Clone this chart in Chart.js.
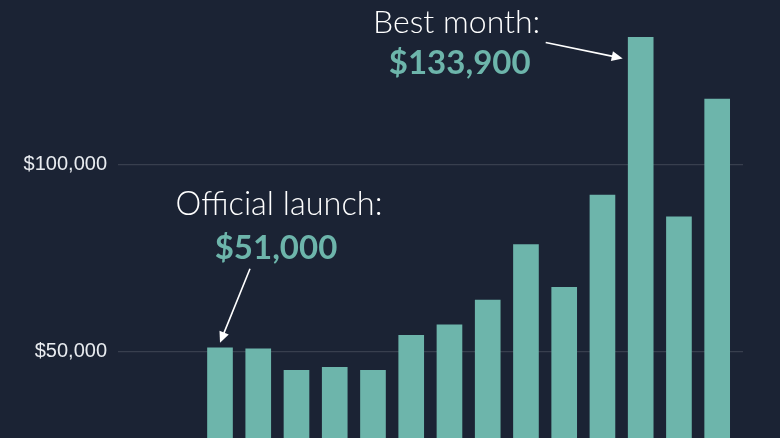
<!DOCTYPE html>
<html>
<head>
<meta charset="utf-8">
<script src="https://cdn.jsdelivr.net/npm/chart.js@4"></script>
<style>
  html, body { margin: 0; padding: 0; background: #1b2334; }
  #wrap { width: 780px; height: 438px; }
</style>
</head>
<body>
<div id="wrap"><canvas id="sales" width="780" height="438"></canvas></div>
<script>
// monthly revenue, starting with the launch month
const months = ['Month 1', 'Month 2', 'Month 3', 'Month 4', 'Month 5', 'Month 6', 'Month 7',
  'Month 8', 'Month 9', 'Month 10', 'Month 11', 'Month 12', 'Month 13', 'Month 14'];
const revenue = [51000, 50700, 45000, 45800, 45000, 54300, 57100,
  63750, 78600, 67150, 91800, 133900, 86000, 117450];
const yTicks = [50000, 100000];

const BAR = '#6db5ab';
const money = v => '$' + v.toLocaleString('en-US');

// callout text + arrows, anchored on the bars themselves
const callouts = {
  id: 'callouts',
  afterDatasetsDraw(chart) {
    const ctx = chart.ctx;
    const bars = chart.getDatasetMeta(0).data;
    const launch = bars[0];
    const bestIdx = revenue.indexOf(Math.max(...revenue));
    const best = bars[bestIdx];

    ctx.save();
    ctx.textAlign = 'center';
    ctx.textBaseline = 'alphabetic';

    // launch
    ctx.fillStyle = '#ffffff';
    ctx.font = '300 32.5px Lato';
    ctx.fillText('Official launch:', launch.x + 59, launch.y - 133);
    ctx.fillStyle = BAR;
    ctx.font = 'bold 33px Lato';
    ctx.fillText(money(revenue[0]), launch.x + 56, launch.y - 89);
    arrow(ctx, launch.x + 30, launch.y - 79, launch.x, launch.y - 5);

    // best month
    ctx.fillStyle = '#ffffff';
    ctx.font = '300 32px Lato';
    ctx.fillText('Best month:', best.x - 184, best.y - 4);
    ctx.fillStyle = BAR;
    ctx.font = 'bold 33px Lato';
    ctx.fillText(money(revenue[bestIdx]), best.x - 181, best.y + 37);
    arrow(ctx, best.x - 95, best.y + 5, best.x - 18, best.y + 21);
    ctx.restore();
  }
};

function arrow(ctx, x1, y1, x2, y2) {
  const a = Math.atan2(y2 - y1, x2 - x1);
  const len = 11, half = 5;
  ctx.strokeStyle = '#ffffff';
  ctx.fillStyle = '#ffffff';
  ctx.lineWidth = 1.6;
  ctx.beginPath();
  ctx.moveTo(x1, y1);
  ctx.lineTo(x2 - Math.cos(a) * len * 0.8, y2 - Math.sin(a) * len * 0.8);
  ctx.stroke();
  ctx.beginPath();
  ctx.moveTo(x2, y2);
  ctx.lineTo(x2 - Math.cos(a) * len + Math.sin(a) * half, y2 - Math.sin(a) * len - Math.cos(a) * half);
  ctx.lineTo(x2 - Math.cos(a) * len - Math.sin(a) * half, y2 - Math.sin(a) * len + Math.cos(a) * half);
  ctx.closePath();
  ctx.fill();
}

new Chart(document.getElementById('sales'), {
  type: 'bar',
  data: {
    datasets: [{
      label: 'Revenue',
      data: revenue.map((v, i) => ({ x: i, y: v, month: months[i] })),
      backgroundColor: BAR,
      borderWidth: 0,
      barThickness: 25
    }]
  },
  options: {
    responsive: false,
    animation: false,
    layout: { padding: { left: 0, top: 0, bottom: 0, right: 37 } },
    plugins: {
      legend: { display: false },
      tooltip: { enabled: false }
    },
    scales: {
      x: {
        type: 'linear',
        offset: false,
        grid: { offset: false },
        min: -2.667,
        max: 13.675,
        display: false
      },
      y: {
        min: 26900,
        max: 143900,
        border: { display: false },
        grid: { color: 'rgba(255, 255, 255, 0.13)', lineWidth: 1.2, drawTicks: false },
        afterBuildTicks: s => { s.ticks = yTicks.map(v => ({ value: v })); },
        afterFit: s => { s.width = 118; s.paddingTop = 0; s.paddingBottom = 0; },
        ticks: {
          padding: 11,
          color: '#e9ecf0',
          font: { family: "'Liberation Sans', Arial, sans-serif", size: 20 },
          callback: v => money(v)
        }
      }
    }
  },
  plugins: [callouts]
});
</script>
</body>
</html>
